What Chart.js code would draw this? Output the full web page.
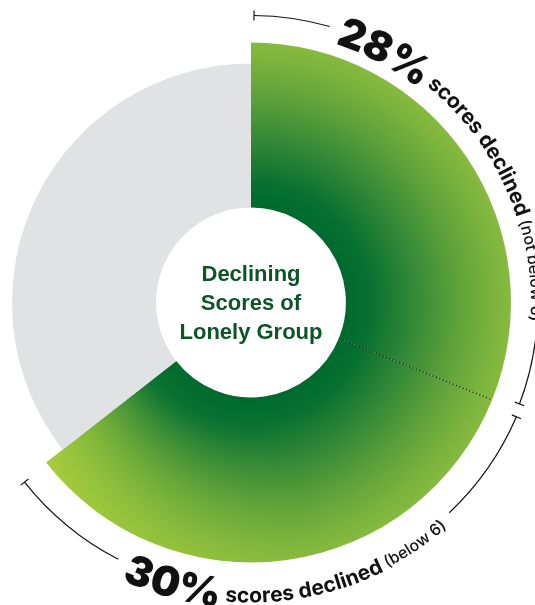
<!DOCTYPE html>
<html>
<head>
<meta charset="utf-8">
<script src="https://cdn.jsdelivr.net/npm/chart.js@4.4.1/dist/chart.umd.min.js"></script>
<style>
  html, body { margin: 0; padding: 0; background: #ffffff; overflow: hidden; }
  canvas { display: block; }
</style>
</head>
<body>
<canvas id="chart" width="535" height="605"></canvas>
<script>
// Lonely group: how many saw their scores decline, and whether they fell below 6
const categories = ['scores declined (not below 6)', 'scores declined (below 6)', 'remaining'];
const values = [28, 30, 32];
const mainLabels = ['scores declined', 'scores declined'];
const noteLabels = ['(not below 6)', '(below 6)'];
const centerTitle = ['Declining', 'Scores of', 'Lonely Group'];

const GREY = '#e1e2e4';
const INK = '#111111';
const TITLE_GREEN = '#0b5528';
const OUTER_R = 260;
const GREY_R = 239;

const deg = Math.PI / 180;
let fillCache = null;

// One continuous green fill shared by both green slices: dark at the hole,
// lighter toward the rim, with a lime wash near the end of the sweep.
function greenFill(chart) {
  const area = chart.chartArea;
  if (!area) return '#3b8d38';
  const key = area.left + ',' + area.top + ',' + area.right + ',' + area.bottom;
  if (fillCache && fillCache.key === key) return fillCache.pattern;
  const w = chart.width, h = chart.height;
  const cx = (area.left + area.right) / 2, cy = (area.top + area.bottom) / 2;

  const base = document.createElement('canvas');
  base.width = w; base.height = h;
  const g = base.getContext('2d');
  const rad = g.createRadialGradient(cx, cy, 95, cx, cy, 262);
  rad.addColorStop(0.00, '#006a2e');
  rad.addColorStop(0.15, '#087131');
  rad.addColorStop(0.40, '#338837');
  rad.addColorStop(0.65, '#5ca03a');
  rad.addColorStop(0.88, '#7bb33d');
  rad.addColorStop(1.00, '#88ba3e');
  g.fillStyle = rad;
  g.fillRect(0, 0, w, h);

  const wash = document.createElement('canvas');
  wash.width = w; wash.height = h;
  const o = wash.getContext('2d');
  const cg = o.createConicGradient(-Math.PI / 2, cx, cy);
  cg.addColorStop(0.00, 'rgba(170,207,60,0)');
  cg.addColorStop(0.46, 'rgba(170,207,60,0)');
  cg.addColorStop(0.645, 'rgba(170,207,60,0.85)');
  cg.addColorStop(1.00, 'rgba(170,207,60,0.85)');
  o.fillStyle = cg;
  o.fillRect(0, 0, w, h);
  o.globalCompositeOperation = 'destination-in';
  const mask = o.createRadialGradient(cx, cy, 130, cx, cy, 262);
  mask.addColorStop(0, 'rgba(0,0,0,0)');
  mask.addColorStop(1, 'rgba(0,0,0,1)');
  o.fillStyle = mask;
  o.fillRect(0, 0, w, h);
  g.drawImage(wash, 0, 0);

  const pattern = chart.ctx.createPattern(base, 'no-repeat');
  fillCache = { key, pattern };
  return pattern;
}

// Draws text along a circle, centred on midAngle (canvas radians).
// outward=true: letters stand up away from the centre, reading clockwise.
// outward=false: letters hang toward the centre, reading counter-clockwise.
function arcText(ctx, parts, cx, cy, midAngle, outward, rRef) {
  let total = 0;
  parts.forEach(p => {
    ctx.font = p.font;
    p.width = ctx.measureText(p.text).width;
    total += p.width;
  });
  const span = total / rRef;
  const start = outward ? midAngle - span / 2 : midAngle + span / 2;
  let offset = 0;
  ctx.save();
  ctx.fillStyle = INK;
  ctx.textAlign = 'center';
  ctx.textBaseline = 'alphabetic';
  parts.forEach(p => {
    ctx.font = p.font;
    const chars = [...p.text];
    let prefix = '';
    chars.forEach(ch => {
      const before = ctx.measureText(prefix).width;
      prefix += ch;
      const after = ctx.measureText(prefix).width;
      const cw = after - before;
      const along = offset + before + cw / 2;
      const a = outward ? start + along / rRef : start - along / rRef;
      const r = p.r;
      ctx.save();
      ctx.translate(cx + r * Math.cos(a), cy + r * Math.sin(a));
      ctx.rotate(outward ? a + Math.PI / 2 : a - Math.PI / 2);
      ctx.fillText(ch, 0, 0);
      ctx.restore();
    });
    offset += p.width;
  });
  ctx.restore();
  return outward ? [start, start + span] : [start - span, start];
}

function bracketArc(ctx, cx, cy, r, a0, a1, tick0, tick1) {
  ctx.beginPath();
  ctx.arc(cx, cy, r, a0, a1);
  ctx.stroke();
  [[a0, tick0], [a1, tick1]].forEach(([a, on]) => {
    if (!on) return;
    ctx.beginPath();
    ctx.moveTo(cx + (r - 5) * Math.cos(a), cy + (r - 5) * Math.sin(a));
    ctx.lineTo(cx + (r + 5) * Math.cos(a), cy + (r + 5) * Math.sin(a));
    ctx.stroke();
  });
}

const ringDecor = {
  id: 'ringDecor',
  beforeDatasetsDraw(chart) {
    // the remaining share sits on a slightly narrower ring
    const arcs = chart.getDatasetMeta(0).data;
    const grey = arcs[2];
    if (grey) grey.outerRadius = grey.outerRadius * GREY_R / OUTER_R;
  },
  afterDatasetsDraw(chart) {
    const ctx = chart.ctx;
    const arcs = chart.getDatasetMeta(0).data;
    const a0 = arcs[0], a1 = arcs[1];
    const cx = a0.x, cy = a0.y;

    // dotted divider between the two green slices
    ctx.save();
    ctx.strokeStyle = '#1a1a1a';
    ctx.lineWidth = 1.2;
    ctx.setLineDash([1.3, 2.3]);
    const d = a0.endAngle;
    ctx.beginPath();
    ctx.moveTo(cx + a0.innerRadius * Math.cos(d), cy + a0.innerRadius * Math.sin(d));
    ctx.lineTo(cx + a0.outerRadius * Math.cos(d), cy + a0.outerRadius * Math.sin(d));
    ctx.stroke();
    ctx.restore();

    // curved labels
    const big = '900 41px Inter, "Open Sans", sans-serif';
    const mid = '700 21px Inter, "Open Sans", sans-serif';
    const small = '500 16px Inter, "Open Sans", sans-serif';
    const topParts = [
      { text: values[0] + '%', font: big, r: 272 },
      { text: ' ' + mainLabels[0], font: mid, r: 279 },
      { text: ' ' + noteLabels[0], font: small, r: 280 }
    ];
    const botParts = [
      { text: values[1] + '%', font: big, r: 306 },
      { text: ' ' + mainLabels[1], font: mid, r: 300 },
      { text: ' ' + noteLabels[1], font: small, r: 298 }
    ];
    const mid0 = (a0.startAngle + a0.endAngle) / 2;
    const mid1 = (a1.startAngle + a1.endAngle) / 2;
    const t0 = arcText(ctx, topParts, cx, cy, mid0, true, 280);
    const t1 = arcText(ctx, botParts, cx, cy, mid1, false, 297);

    // brackets spanning each green slice, broken around the labels
    ctx.save();
    ctx.strokeStyle = INK;
    ctx.lineWidth = 1.2;
    const br = 287, gap = 2.2 * deg;
    const s0 = a0.startAngle + 0.6 * deg, e0 = a0.endAngle - 1.3 * deg;
    const s1 = a1.startAngle + 1.3 * deg, e1 = a1.endAngle - 0.4 * deg;
    bracketArc(ctx, cx, cy, br, s0, t0[0] - gap, true, false);
    bracketArc(ctx, cx, cy, br, t0[1] + gap, e0, false, true);
    bracketArc(ctx, cx, cy, br + 2, s1, t1[0] - gap, true, false);
    bracketArc(ctx, cx, cy, br + 2, t1[1] + gap, e1, false, true);
    ctx.restore();

    // title inside the hole
    ctx.save();
    ctx.fillStyle = TITLE_GREEN;
    ctx.font = 'bold 22px "Liberation Sans", Arial, sans-serif';
    ctx.textAlign = 'center';
    ctx.textBaseline = 'middle';
    centerTitle.forEach((line, i) => {
      ctx.fillText(line, cx, cy + 1.5 + (i - 1) * 29);
    });
    ctx.restore();
  }
};

new Chart(document.getElementById('chart'), {
  type: 'doughnut',
  data: {
    labels: categories,
    datasets: [{
      data: values,
      backgroundColor: (c) => c.dataIndex < 2 ? greenFill(c.chart) : GREY,
      borderWidth: 0,
      hoverOffset: 0
    }]
  },
  options: {
    responsive: false,
    animation: false,
    devicePixelRatio: 1,
    radius: OUTER_R,
    cutout: '36.5%',
    layout: { padding: { left: 0, right: 33, top: 0, bottom: 0 } },
    plugins: {
      legend: { display: false },
      tooltip: { enabled: false }
    },
    events: []
  },
  plugins: [ringDecor]
});
</script>
</body>
</html>
